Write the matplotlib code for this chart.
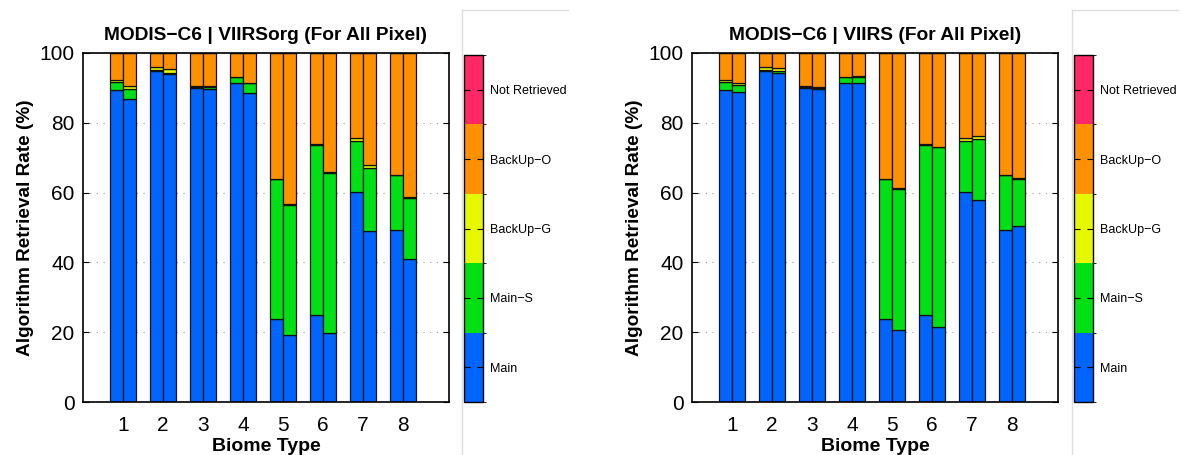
import matplotlib
matplotlib.use("Agg")
import matplotlib.pyplot as plt
import numpy as np
from matplotlib.colors import ListedColormap, BoundaryNorm
from matplotlib.cm import ScalarMappable
from matplotlib.lines import Line2D

plt.rcParams['font.family'] = ['Liberation Sans', 'DejaVu Sans']

biomes = [1, 2, 3, 4, 5, 6, 7, 8]
categories = ['Main', 'Main\u2212S', 'BackUp\u2212G', 'BackUp\u2212O', 'Not Retrieved']
colors = ['#0064FF', '#00E015', '#E6F800', '#FF9100', '#FF2766']

# MODIS-C6 (left bar of each pair)
modis_main = [89.5, 94.7, 90.1, 91.4, 23.9, 24.9, 60.3, 49.3]
modis_main_s = [2.1, 0.3, 0.2, 1.7, 39.9, 48.7, 14.5, 15.7]
modis_backup_g = [0.8, 1.1, 0.2, 0.0, 0.1, 0.2, 0.9, 0.1]
modis_not_retr = [0, 0, 0, 0, 0, 0, 0, 0]

# VIIRSorg (right bar, left panel)
viirsorg_main = [86.9, 93.9, 89.6, 88.4, 19.1, 19.9, 49.1, 40.9]
viirsorg_main_s = [2.8, 0.4, 0.7, 3.0, 37.4, 45.8, 18.0, 17.6]
viirsorg_backup_g = [0.8, 1.0, 0.2, 0.1, 0.1, 0.3, 0.8, 0.1]
viirsorg_not_retr = [0, 0, 0, 0, 0, 0, 0, 0]

# VIIRS (right bar, right panel)
viirs_main = [88.7, 94.4, 89.7, 91.3, 20.6, 21.6, 58.0, 50.4]
viirs_main_s = [2.0, 0.3, 0.4, 1.9, 40.5, 51.4, 17.5, 13.6]
viirs_backup_g = [0.8, 1.1, 0.2, 0.1, 0.1, 0.2, 0.8, 0.1]
viirs_not_retr = [0, 0, 0, 0, 0, 0, 0, 0]

titles = ['MODIS\u2212C6 | VIIRSorg (For All Pixel)', 'MODIS\u2212C6 | VIIRS (For All Pixel)']


def stack(main, main_s, bg, nr):
    main = np.array(main, float); main_s = np.array(main_s, float)
    bg = np.array(bg, float); nr = np.array(nr, float)
    bo = 100.0 - main - main_s - bg - nr
    return [main, main_s, bg, bo, nr]


W, H = 1183, 455
fig = plt.figure(figsize=(W / 100, H / 100), dpi=100)


def px(x0, y_top, w, h):
    return [x0 / W, (H - y_top - h) / H, w / W, h / H]


panels = [
    (83, 464, 462, stack(viirsorg_main, viirsorg_main_s, viirsorg_backup_g, viirsorg_not_retr)),
    (692, 1074, 1072, stack(viirs_main, viirs_main_s, viirs_backup_g, viirs_not_retr)),
]
modis = stack(modis_main, modis_main_s, modis_backup_g, modis_not_retr)

x = np.array(biomes, float)
bw = 0.325
for i, (ax_x, cb_x, line_x, other) in enumerate(panels):
    ax = fig.add_axes(px(ax_x, 53, 366, 349))
    for j, segs in enumerate([modis, other]):
        xpos = x - bw / 2 if j == 0 else x + bw / 2
        bottom = np.zeros(len(x))
        for k, seg in enumerate(segs):
            ax.bar(xpos, seg, bw, bottom=bottom, color=colors[k],
                   edgecolor='#111111', linewidth=0.9, zorder=2)
            bottom = bottom + seg
    ax.set_xlim(0, 9.15)
    ax.set_ylim(0, 100)
    ax.set_xticks(biomes)
    ax.set_yticks([0, 20, 40, 60, 80, 100])
    ax.yaxis.grid(True, linestyle=(0, (1, 5)), color='#999999', linewidth=0.8)
    ax.set_axisbelow(True)
    ax.tick_params(axis='y', direction='in', length=4, width=0.8, left=True, right=True,
                   labelsize=15, pad=6)
    ax.tick_params(axis='x', direction='in', length=4, width=0.8, top=True, bottom=True,
                   labelsize=15, pad=10)
    for s in ax.spines.values():
        s.set_linewidth(1.2)
    ax.set_title(titles[i], fontsize=13.8, fontweight='bold', pad=9)
    ax.set_xlabel('Biome Type', fontsize=14, fontweight='bold', labelpad=2)
    ax.set_ylabel('Algorithm Retrieval Rate (%)', fontsize=13.7, fontweight='bold', labelpad=4)

    cax = fig.add_axes(px(cb_x, 55, 19, 347))
    cmap = ListedColormap(colors)
    norm = BoundaryNorm([0, 20, 40, 60, 80, 100], cmap.N)
    cb = fig.colorbar(ScalarMappable(norm=norm, cmap=cmap), cax=cax)
    cb.set_ticks([10, 30, 50, 70, 90])
    cb.set_ticklabels(categories)
    cax.tick_params(direction='in', length=4, width=0.8, left=True, right=True,
                    labelsize=9, pad=5)
    cb.outline.set_linewidth(1.0)

    fig.add_artist(Line2D([line_x / W, line_x / W], [0, (H - 10) / H],
                          transform=fig.transFigure, color='#dddddd', linewidth=1))
    fig.add_artist(Line2D([line_x / W, min(line_x + 106, W) / W], [(H - 10) / H, (H - 10) / H],
                          transform=fig.transFigure, color='#dddddd', linewidth=1))

fig.savefig('out.png', dpi=100)
